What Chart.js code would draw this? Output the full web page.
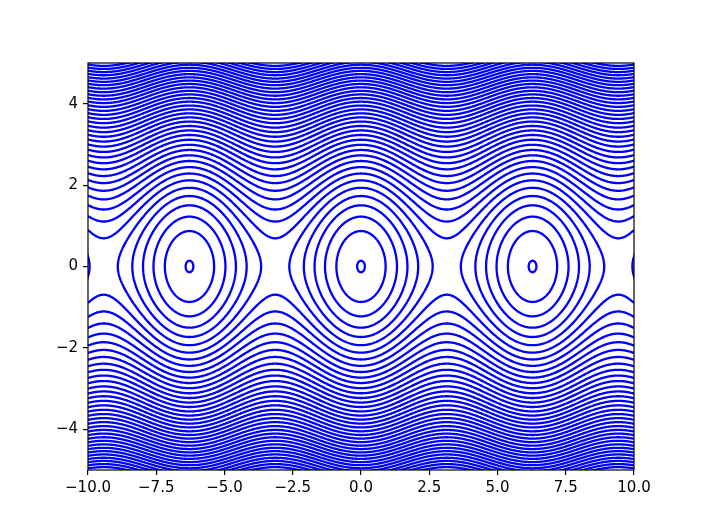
<!DOCTYPE html>
<html>
<head>
<meta charset="utf-8">
<title>Pendulum phase portrait</title>
<script src="https://cdn.jsdelivr.net/npm/chart.js@4.4.0/dist/chart.umd.min.js"></script>
<style>
  body { margin: 0; background: #fff; }
  #graph { display: block; }
</style>
</head>
<body>
<canvas id="graph" width="706" height="529"></canvas>
<script>
// Contour levels of H = v^2/2 - cos(x) (innermost first)
var levels = [-0.99, -0.62, -0.25, 0.13, 0.50, 0.87, 1.24, 1.61, 1.98, 2.36,
              2.73, 3.10, 3.47, 3.85, 4.22, 4.59, 4.96, 5.34, 5.71, 6.08,
              6.45, 6.82, 7.20, 7.57, 7.94, 8.31, 8.69, 9.06, 9.43, 9.80,
              10.17, 10.55, 10.92, 11.29, 11.66, 12.04, 12.41, 12.78, 13.15];

// centres of the closed orbits (multiples of 2*pi)
var wellCentres = [-4 * Math.PI, -2 * Math.PI, 0, 2 * Math.PI, 4 * Math.PI];

var xRange = [-10, 10];
var yRange = [-5, 5];
var xTicks = [-10, -7.5, -5, -2.5, 0, 2.5, 5, 7.5, 10];
var yTicks = [-4, -2, 0, 2, 4];

// closed orbit around a centre (level below the separatrix)
function closedOrbit(level, centre) {
    var k = Math.sqrt((level + 1) / 2);
    var pts = [];
    var n = 240;
    for (var i = 0; i <= n; i++) {
        var phi = 2 * Math.PI * i / n;
        pts.push({ x: centre + 2 * Math.asin(k * Math.sin(phi)), y: 2 * k * Math.cos(phi) });
    }
    return pts;
}

// rotating orbit (level above the separatrix), upper or lower branch
function openOrbit(level, sign) {
    var pts = [];
    var n = 500;
    for (var i = 0; i <= n; i++) {
        var x = xRange[0] + (xRange[1] - xRange[0]) * i / n;
        pts.push({ x: x, y: sign * Math.sqrt(2 * (level + Math.cos(x))) });
    }
    return pts;
}

var datasets = [];
levels.forEach(function(level) {
    var curves = [];
    if (level < 1) {
        wellCentres.forEach(function(c) { curves.push(closedOrbit(level, c)); });
    } else {
        curves.push(openOrbit(level, 1));
        curves.push(openOrbit(level, -1));
    }
    curves.forEach(function(pts) {
        datasets.push({
            data: pts,
            showLine: true,
            borderColor: '#0000ff',
            borderWidth: 2.3,
            borderJoinStyle: 'round',
            pointRadius: 0,
            fill: false,
            // tiny tension so Chart.js doesn't use its x-sorted fast path
            tension: 0.001
        });
    });
});

function minusSign(s) {
    return s.replace('-', '\u2212');
}

// draw the four spines on top of the contours
var framePlugin = {
    id: 'frame',
    afterDraw: function(chart) {
        var a = chart.chartArea;
        var ctx = chart.ctx;
        ctx.save();
        ctx.strokeStyle = '#000';
        ctx.lineWidth = 1.2;
        ctx.strokeRect(a.left, a.top, a.right - a.left, a.bottom - a.top);
        ctx.restore();
    }
};

var tickFont = { family: 'DejaVu Sans', size: 15 };

var ctx = document.getElementById('graph').getContext('2d');
var myChart = new Chart(ctx, {
    type: 'scatter',
    data: { datasets: datasets },
    plugins: [framePlugin],
    options: {
        responsive: false,
        animation: false,
        events: [],
        layout: { padding: { top: 63, right: 72, bottom: 0, left: 0 } },
        plugins: { legend: { display: false }, tooltip: { enabled: false } },
        scales: {
            x: {
                type: 'linear',
                min: xRange[0],
                max: xRange[1],
                afterBuildTicks: function(scale) {
                    scale.ticks = xTicks.map(function(v) { return { value: v }; });
                },
                afterFit: function(scale) { scale.height = 59; },
                border: { display: false },
                grid: { drawOnChartArea: false, drawTicks: true, tickLength: 5, color: '#000', lineWidth: 1.2 },
                ticks: {
                    autoSkip: false,
                    maxRotation: 0,
                    padding: 4,
                    color: '#000',
                    font: tickFont,
                    callback: function(v) { return minusSign(Number(v).toFixed(1)); }
                }
            },
            y: {
                type: 'linear',
                min: yRange[0],
                max: yRange[1],
                afterBuildTicks: function(scale) {
                    scale.ticks = yTicks.map(function(v) { return { value: v }; });
                },
                afterFit: function(scale) { scale.width = 88; },
                border: { display: false },
                grid: { drawOnChartArea: false, drawTicks: true, tickLength: 5, color: '#000', lineWidth: 1.2 },
                ticks: {
                    autoSkip: false,
                    padding: 5,
                    color: '#000',
                    font: tickFont,
                    callback: function(v) { return minusSign(String(v)); }
                }
            }
        }
    }
});
</script>
</body>
</html>
